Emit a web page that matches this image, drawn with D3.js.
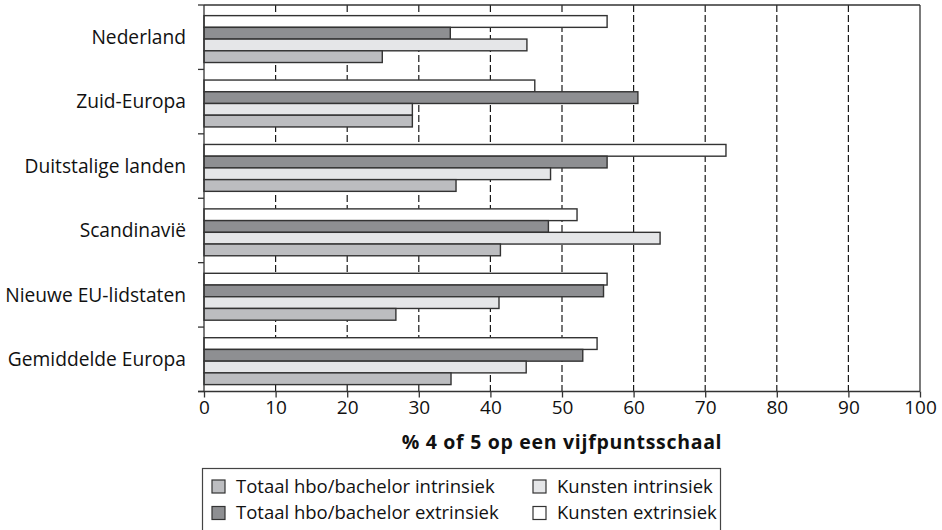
<!DOCTYPE html>
<html>
<head>
<meta charset="utf-8">
<script src="https://cdn.jsdelivr.net/npm/d3@7"></script>
<style>
  body { margin: 0; background: #fff; }
  svg { font-family: "Open Sans", Lato, sans-serif; }
</style>
</head>
<body>
<svg id="chart" width="942" height="530"></svg>
<script>
// regions, top to bottom
var categories = ["Nederland", "Zuid-Europa", "Duitstalige landen", "Scandinavië", "Nieuwe EU-lidstaten", "Gemiddelde Europa"];

// series, in the order the bars appear inside a group (top to bottom)
var seriesNames = ["Kunsten extrinsiek", "Totaal hbo/bachelor extrinsiek", "Kunsten intrinsiek", "Totaal hbo/bachelor intrinsiek"];
var kunstenExtrinsiek = [56.3, 46.2, 72.9, 52.1, 56.3, 54.9];
var totaalExtrinsiek  = [34.4, 60.6, 56.3, 48.1, 55.8, 52.9];
var kunstenIntrinsiek = [45.1, 29.1, 48.4, 63.7, 41.2, 45.0];
var totaalIntrinsiek  = [24.9, 29.1, 35.2, 41.4, 26.8, 34.5];
var seriesValues = [kunstenExtrinsiek, totaalExtrinsiek, kunstenIntrinsiek, totaalIntrinsiek];

var xTicks = [0, 10, 20, 30, 40, 50, 60, 70, 80, 90, 100];
var axisTitle = "% 4 of 5 op een vijfpuntsschaal";

// legend order (two columns)
var legendItems = [
    "Totaal hbo/bachelor intrinsiek", "Kunsten intrinsiek",
    "Totaal hbo/bachelor extrinsiek", "Kunsten extrinsiek"
];

var colors = {
    "Kunsten extrinsiek": "#ffffff",
    "Totaal hbo/bachelor extrinsiek": "#8e8f92",
    "Kunsten intrinsiek": "#e5e6e8",
    "Totaal hbo/bachelor intrinsiek": "#bcbdc0"
};

var svg = d3.select("#chart");

var plotLeft = 204, plotRight = 920, plotTop = 5, plotBottom = 391.5;

var x = d3.scaleLinear().domain([0, 100]).range([plotLeft, plotRight]);
var y = d3.scaleBand().domain(categories).range([plotTop, plotBottom]).padding(0);

// bars inside one group
var yInner = d3.scaleBand()
    .domain(seriesNames)
    .range([y.bandwidth() * 0.165, y.bandwidth() * 0.893])
    .padding(0);

// dashed grid lines
svg.append("g")
    .selectAll("line")
    .data(xTicks.filter(function(d) { return d > 0 && d < 100; }))
    .enter().append("line")
    .attr("x1", function(d) { return x(d); })
    .attr("x2", function(d) { return x(d); })
    .attr("y1", plotTop)
    .attr("y2", plotBottom)
    .style("stroke", "#1a1a1a")
    .style("stroke-width", 1.2)
    .style("stroke-dasharray", "7,3");

// plot frame: top and right
svg.append("line")
    .attr("x1", x(0)).attr("x2", x(100))
    .attr("y1", plotTop).attr("y2", plotTop)
    .style("stroke", "#333").style("stroke-width", 1.3);
svg.append("line")
    .attr("x1", x(100)).attr("x2", x(100))
    .attr("y1", plotTop).attr("y2", plotBottom)
    .style("stroke", "#333").style("stroke-width", 1.3);

// bars
var groups = svg.append("g")
    .selectAll("g")
    .data(categories)
    .enter().append("g")
    .attr("transform", function(d) { return "translate(0," + y(d) + ")"; });

groups.selectAll("rect")
    .data(function(d, i) {
        return seriesNames.map(function(s, j) { return { series: s, value: seriesValues[j][i] }; });
    })
    .enter().append("rect")
    .attr("x", x(0))
    .attr("y", function(d) { return yInner(d.series); })
    .attr("width", function(d) { return x(d.value) - x(0); })
    .attr("height", yInner.bandwidth())
    .style("fill", function(d) { return colors[d.series]; })
    .style("stroke", "#333")
    .style("stroke-width", 1.4);

// y axis (left), ticks at the group boundaries
var yAxis = svg.append("g");
yAxis.append("line")
    .attr("x1", x(0)).attr("x2", x(0))
    .attr("y1", plotTop).attr("y2", plotBottom)
    .style("stroke", "#333").style("stroke-width", 1.3);
yAxis.selectAll(".ytick")
    .data(categories.map(function(c) { return y(c); }).concat([plotBottom]))
    .enter().append("line")
    .attr("class", "ytick")
    .attr("x1", x(0) - 6).attr("x2", x(0))
    .attr("y1", function(d) { return d; })
    .attr("y2", function(d) { return d; })
    .style("stroke", "#333").style("stroke-width", 1.3);
yAxis.selectAll(".ylabel")
    .data(categories)
    .enter().append("text")
    .attr("class", "ylabel")
    .attr("x", 186)
    .attr("y", function(d) { return y(d) + y.bandwidth() / 2; })
    .attr("dy", "0.35em")
    .attr("text-anchor", "end")
    .style("font-size", "19.2px")
    .style("fill", "#111")
    .text(function(d) { return d; });

// x axis
var xAxis = svg.append("g")
    .attr("transform", "translate(0," + plotBottom + ")")
    .call(d3.axisBottom(x).tickValues(xTicks).tickSize(6).tickSizeOuter(0));
xAxis.select(".domain")
    .attr("d", "M" + (x(0) - 6) + ",0H" + x(100))
    .style("stroke", "#333").style("stroke-width", 1.3);
xAxis.selectAll(".tick line").style("stroke", "#333").style("stroke-width", 1.3);
xAxis.selectAll(".tick text")
    .attr("y", 9)
    .attr("dy", "0.71em")
    .style("font-family", "'Open Sans', sans-serif")
    .style("font-size", "19px")
    .style("fill", "#111");

svg.append("text")
    .attr("x", (x(0) + x(100)) / 2)
    .attr("y", 449)
    .attr("text-anchor", "middle")
    .style("font-size", "19.5px")
    .style("font-weight", "bold")
    .style("letter-spacing", "0.7px")
    .style("fill", "#111")
    .text(axisTitle);

// legend
var legend = svg.append("g");
legend.append("rect")
    .attr("x", 202.5).attr("y", 468.5)
    .attr("width", 518).attr("height", 80)
    .style("fill", "none")
    .style("stroke", "#444").style("stroke-width", 1.2);

var legendRow = legend.selectAll(".item")
    .data(legendItems)
    .enter().append("g")
    .attr("class", "item")
    .attr("transform", function(d, i) {
        var col = i % 2, row = Math.floor(i / 2);
        return "translate(" + (col === 0 ? 212 : 533) + "," + (480 + row * 26.5) + ")";
    });
legendRow.append("rect")
    .attr("width", 13).attr("height", 13)
    .style("fill", function(d) { return colors[d]; })
    .style("stroke", "#333").style("stroke-width", 1.2);
legendRow.append("text")
    .attr("x", 24)
    .attr("y", 6.5)
    .attr("dy", "0.35em")
    .style("font-size", "18.5px")
    .style("fill", "#111")
    .text(function(d) { return d; });
</script>
</body>
</html>
